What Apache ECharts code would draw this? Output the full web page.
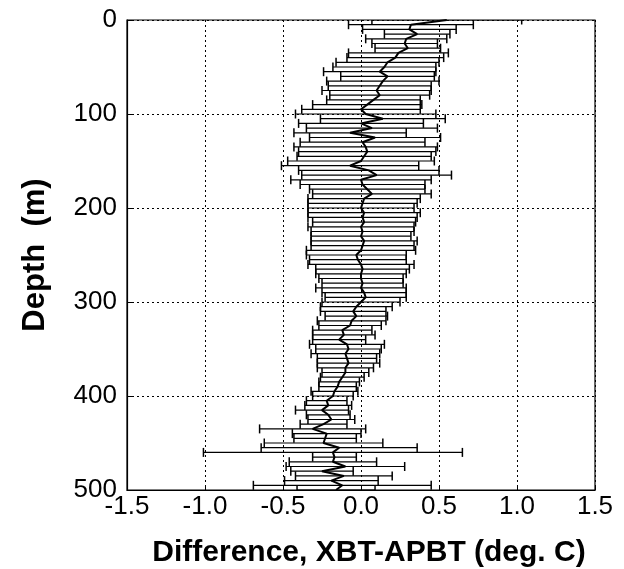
<!DOCTYPE html>
<html>
<head>
<meta charset="utf-8">
<script src="https://cdn.jsdelivr.net/npm/echarts@6/dist/echarts.min.js"></script>
<style>
html,body{margin:0;padding:0;background:#fff;}
#chart{width:624px;height:569px;}
</style>
</head>
<body>
<div id="chart"></div>
<script>
// Depth (m)
const depths = [0,5,10,15,20,25,30,35,40,45,50,55,60,65,70,75,80,85,90,95,
100,105,110,115,120,125,130,135,140,145,150,155,160,165,170,175,180,185,190,195,
200,205,210,215,220,225,230,235,240,245,250,255,260,265,270,275,280,285,290,295,
300,305,310,315,320,325,330,335,340,345,350,355,360,365,370,375,380,385,390,395,
400,405,410,415,420,425,430,435,440,445,450,455,460,465,470,475,480,485,490,495,500];
// Mean difference XBT-APBT (deg C)
const meanDiff = [0.55,0.32,0.31,0.36,0.29,0.28,0.30,0.24,0.22,0.17,0.15,0.12,0.17,0.14,0.12,0.10,0.12,0.08,0.04,0.00,
0.03,0.14,0.00,0.07,-0.07,0.09,0.01,0.03,0.04,0.02,0.00,-0.07,0.05,0.10,0.00,0.01,0.04,0.07,0.02,0.01,
0.00,0.02,0.01,0.02,0.00,0.01,0.00,0.02,0.01,0.00,-0.03,-0.02,0.00,0.01,0.00,0.00,0.01,0.00,0.02,0.03,
0.00,-0.03,-0.05,-0.03,-0.06,-0.07,-0.12,-0.11,-0.14,-0.09,-0.08,-0.10,-0.09,-0.08,-0.10,-0.10,-0.12,-0.14,-0.15,-0.17,
-0.18,-0.22,-0.21,-0.25,-0.21,-0.19,-0.24,-0.31,-0.22,-0.23,-0.24,-0.14,-0.18,-0.17,-0.18,-0.10,-0.25,-0.11,-0.19,-0.12,-0.16];
// Half-width of error bar (deg C)
const stdDiff = [0.48,0.40,0.30,0.21,0.26,0.21,0.21,0.32,0.31,0.33,0.33,0.36,0.30,0.36,0.33,0.35,0.32,0.30,0.35,0.38,
0.45,0.40,0.40,0.42,0.36,0.42,0.40,0.46,0.44,0.43,0.47,0.44,0.45,0.48,0.45,0.40,0.37,0.38,0.36,0.35,
0.34,0.36,0.35,0.33,0.34,0.33,0.32,0.34,0.33,0.35,0.32,0.31,0.34,0.30,0.29,0.27,0.26,0.29,0.27,0.26,
0.25,0.23,0.21,0.20,0.22,0.20,0.19,0.20,0.17,0.24,0.21,0.22,0.19,0.20,0.18,0.15,0.14,0.13,0.12,0.15,
0.13,0.13,0.15,0.17,0.14,0.15,0.15,0.34,0.22,0.20,0.38,0.50,0.83,0.14,0.28,0.38,0.20,0.31,0.30,0.57,0.25];
const xTicks = [-1.5,-1.0,-0.5,0.0,0.5,1.0,1.5];
const yTicks = [0,100,200,300,400,500];

const meanData = depths.map((d,i)=>[meanDiff[i], d]);
const errData = depths.map((d,i)=>[meanDiff[i]-stdDiff[i], meanDiff[i]+stdDiff[i], d]);

const chart = echarts.init(document.getElementById('chart'), null, {renderer:'canvas'});
const font = 'Liberation Sans, Arial, Helvetica, sans-serif';
chart.setOption({
  animation:false,
  backgroundColor:'#fff',
  grid:{left:127, right:29, top:20, bottom:79, containLabel:false, outerBoundsMode:'none',
        show:true, borderColor:'#000', borderWidth:1.2, backgroundColor:'transparent'},
  xAxis:{
    type:'value', min:-1.5, max:1.5, interval:0.5,
    name:'Difference, XBT-APBT (deg. C)', nameLocation:'middle', nameGap:48,
    nameTextStyle:{fontFamily:font, fontSize:30, fontWeight:'bold', color:'#000', padding:[0,0,0,16]},
    axisLine:{show:true, onZero:false, lineStyle:{color:'#000', width:1.2}},
    axisTick:{show:true, inside:true, length:5, lineStyle:{color:'#000'}},
    axisLabel:{fontFamily:font, fontSize:26, color:'#000', margin:4,
      formatter:v=>{const t=xTicks.find(x=>Math.abs(x-v)<1e-6); return t===undefined?'':t.toFixed(1);}},
    splitLine:{show:true, lineStyle:{color:'#000', type:[2,3], width:1}}
  },
  yAxis:{
    type:'value', inverse:true, min:0, max:500, interval:100,
    name:'Depth  (m)', nameLocation:'middle', nameGap:76, nameRotate:90,
    nameTextStyle:{fontFamily:font, fontSize:31, fontWeight:'bold', color:'#000'},
    axisLine:{show:true, onZero:false, lineStyle:{color:'#000', width:1.2}},
    axisTick:{show:true, inside:true, length:5, lineStyle:{color:'#000'}},
    axisLabel:{fontFamily:font, fontSize:26, color:'#000', margin:10,
      formatter:v=>{const t=yTicks.find(x=>Math.abs(x-v)<1e-6); return t===undefined?'':String(t);}},
    splitLine:{show:true, lineStyle:{color:'#000', type:[2,3], width:1}}
  },
  series:[
    {
      type:'custom',
      data:errData,
      clip:true,
      renderItem:function(params, api){
        const lo = api.coord([api.value(0), api.value(2)]);
        const hi = api.coord([api.value(1), api.value(2)]);
        const h = 4.5;
        return {type:'group', children:[
          {type:'line', shape:{x1:lo[0], y1:lo[1], x2:hi[0], y2:hi[1]}, style:{stroke:'#000', lineWidth:1.2}},
          {type:'line', shape:{x1:lo[0], y1:lo[1]-h, x2:lo[0], y2:lo[1]+h}, style:{stroke:'#000', lineWidth:1.5}},
          {type:'line', shape:{x1:hi[0], y1:hi[1]-h, x2:hi[0], y2:hi[1]+h}, style:{stroke:'#000', lineWidth:1.5}}
        ]};
      },
      encode:{x:[0,1], y:2},
      z:3
    },
    {
      type:'line', data:meanData, showSymbol:false, symbol:'none',
      lineStyle:{color:'#000', width:2}, z:4
    }
  ]
});
</script>
</body>
</html>
